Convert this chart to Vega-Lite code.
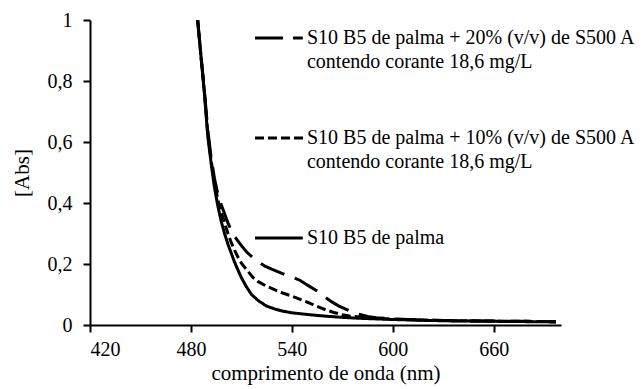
{
  "$schema": "https://vega.github.io/schema/vega-lite/v6.json",
  "width": 471,
  "height": 305,
  "autosize": "none",
  "padding": {"left": 90, "top": 20, "right": 82, "bottom": 64},
  "background": "white",
  "config": {
    "view": {"stroke": null},
    "axis": {
      "domainColor": "black", "domainWidth": 2, "tickColor": "black", "tickWidth": 2, "tickSize": 7,
      "grid": false, "labelFont": "Liberation Serif, Times New Roman, serif", "labelFontSize": 20, "labelColor": "black",
      "titleFont": "Liberation Serif, Times New Roman, serif", "titleFontSize": 21, "titleFontWeight": "normal", "titleColor": "black"
    }
  },
  "datasets": {
    "curves": [
      {"serie": "S10 B5 de palma", "wl": 484, "abs": 1.0},
      {"serie": "S10 B5 de palma", "wl": 486, "abs": 0.88},
      {"serie": "S10 B5 de palma", "wl": 488, "abs": 0.76},
      {"serie": "S10 B5 de palma", "wl": 490, "abs": 0.62},
      {"serie": "S10 B5 de palma", "wl": 492, "abs": 0.53},
      {"serie": "S10 B5 de palma", "wl": 494, "abs": 0.45},
      {"serie": "S10 B5 de palma", "wl": 496, "abs": 0.39},
      {"serie": "S10 B5 de palma", "wl": 498, "abs": 0.34},
      {"serie": "S10 B5 de palma", "wl": 500, "abs": 0.3},
      {"serie": "S10 B5 de palma", "wl": 502, "abs": 0.265},
      {"serie": "S10 B5 de palma", "wl": 504, "abs": 0.235},
      {"serie": "S10 B5 de palma", "wl": 506, "abs": 0.205},
      {"serie": "S10 B5 de palma", "wl": 508, "abs": 0.18},
      {"serie": "S10 B5 de palma", "wl": 510, "abs": 0.155},
      {"serie": "S10 B5 de palma", "wl": 513, "abs": 0.125},
      {"serie": "S10 B5 de palma", "wl": 516, "abs": 0.1},
      {"serie": "S10 B5 de palma", "wl": 520, "abs": 0.08},
      {"serie": "S10 B5 de palma", "wl": 525, "abs": 0.062},
      {"serie": "S10 B5 de palma", "wl": 530, "abs": 0.052},
      {"serie": "S10 B5 de palma", "wl": 535, "abs": 0.045},
      {"serie": "S10 B5 de palma", "wl": 540, "abs": 0.04},
      {"serie": "S10 B5 de palma", "wl": 550, "abs": 0.034},
      {"serie": "S10 B5 de palma", "wl": 560, "abs": 0.029},
      {"serie": "S10 B5 de palma", "wl": 570, "abs": 0.025},
      {"serie": "S10 B5 de palma", "wl": 580, "abs": 0.022},
      {"serie": "S10 B5 de palma", "wl": 590, "abs": 0.02},
      {"serie": "S10 B5 de palma", "wl": 600, "abs": 0.018},
      {"serie": "S10 B5 de palma", "wl": 620, "abs": 0.015},
      {"serie": "S10 B5 de palma", "wl": 640, "abs": 0.013},
      {"serie": "S10 B5 de palma", "wl": 660, "abs": 0.012},
      {"serie": "S10 B5 de palma", "wl": 680, "abs": 0.011},
      {"serie": "S10 B5 de palma", "wl": 697, "abs": 0.01},
      {"serie": "10%", "wl": 484, "abs": 1.0},
      {"serie": "10%", "wl": 486, "abs": 0.88},
      {"serie": "10%", "wl": 488, "abs": 0.765},
      {"serie": "10%", "wl": 490, "abs": 0.63},
      {"serie": "10%", "wl": 492, "abs": 0.54},
      {"serie": "10%", "wl": 494, "abs": 0.47},
      {"serie": "10%", "wl": 496, "abs": 0.41},
      {"serie": "10%", "wl": 498, "abs": 0.37},
      {"serie": "10%", "wl": 500, "abs": 0.335},
      {"serie": "10%", "wl": 502, "abs": 0.3},
      {"serie": "10%", "wl": 504, "abs": 0.27},
      {"serie": "10%", "wl": 506, "abs": 0.245},
      {"serie": "10%", "wl": 508, "abs": 0.222},
      {"serie": "10%", "wl": 510, "abs": 0.203},
      {"serie": "10%", "wl": 513, "abs": 0.182},
      {"serie": "10%", "wl": 517, "abs": 0.155},
      {"serie": "10%", "wl": 520, "abs": 0.142},
      {"serie": "10%", "wl": 525, "abs": 0.127},
      {"serie": "10%", "wl": 530, "abs": 0.115},
      {"serie": "10%", "wl": 535, "abs": 0.104},
      {"serie": "10%", "wl": 540, "abs": 0.095},
      {"serie": "10%", "wl": 545, "abs": 0.084},
      {"serie": "10%", "wl": 550, "abs": 0.073},
      {"serie": "10%", "wl": 555, "abs": 0.061},
      {"serie": "10%", "wl": 560, "abs": 0.05},
      {"serie": "10%", "wl": 565, "abs": 0.041},
      {"serie": "10%", "wl": 570, "abs": 0.034},
      {"serie": "10%", "wl": 575, "abs": 0.029},
      {"serie": "10%", "wl": 580, "abs": 0.026},
      {"serie": "10%", "wl": 590, "abs": 0.022},
      {"serie": "10%", "wl": 600, "abs": 0.019},
      {"serie": "10%", "wl": 620, "abs": 0.016},
      {"serie": "10%", "wl": 640, "abs": 0.014},
      {"serie": "10%", "wl": 660, "abs": 0.013},
      {"serie": "10%", "wl": 680, "abs": 0.012},
      {"serie": "10%", "wl": 697, "abs": 0.011},
      {"serie": "20%", "wl": 484, "abs": 1.0},
      {"serie": "20%", "wl": 486, "abs": 0.88},
      {"serie": "20%", "wl": 488, "abs": 0.77},
      {"serie": "20%", "wl": 490, "abs": 0.64},
      {"serie": "20%", "wl": 492, "abs": 0.55},
      {"serie": "20%", "wl": 494, "abs": 0.48},
      {"serie": "20%", "wl": 496, "abs": 0.43},
      {"serie": "20%", "wl": 498, "abs": 0.395},
      {"serie": "20%", "wl": 500, "abs": 0.365},
      {"serie": "20%", "wl": 502, "abs": 0.335},
      {"serie": "20%", "wl": 504, "abs": 0.31},
      {"serie": "20%", "wl": 506, "abs": 0.29},
      {"serie": "20%", "wl": 508, "abs": 0.275},
      {"serie": "20%", "wl": 510, "abs": 0.26},
      {"serie": "20%", "wl": 513, "abs": 0.24},
      {"serie": "20%", "wl": 517, "abs": 0.22},
      {"serie": "20%", "wl": 520, "abs": 0.208},
      {"serie": "20%", "wl": 524, "abs": 0.193},
      {"serie": "20%", "wl": 528, "abs": 0.183},
      {"serie": "20%", "wl": 533, "abs": 0.172},
      {"serie": "20%", "wl": 537, "abs": 0.162},
      {"serie": "20%", "wl": 541, "abs": 0.155},
      {"serie": "20%", "wl": 545, "abs": 0.146},
      {"serie": "20%", "wl": 548, "abs": 0.135},
      {"serie": "20%", "wl": 551, "abs": 0.125},
      {"serie": "20%", "wl": 554, "abs": 0.115},
      {"serie": "20%", "wl": 557, "abs": 0.104},
      {"serie": "20%", "wl": 560, "abs": 0.09},
      {"serie": "20%", "wl": 564, "abs": 0.075},
      {"serie": "20%", "wl": 568, "abs": 0.062},
      {"serie": "20%", "wl": 572, "abs": 0.052},
      {"serie": "20%", "wl": 576, "abs": 0.042},
      {"serie": "20%", "wl": 580, "abs": 0.035},
      {"serie": "20%", "wl": 585, "abs": 0.028},
      {"serie": "20%", "wl": 590, "abs": 0.024},
      {"serie": "20%", "wl": 600, "abs": 0.02},
      {"serie": "20%", "wl": 620, "abs": 0.016},
      {"serie": "20%", "wl": 640, "abs": 0.014},
      {"serie": "20%", "wl": 660, "abs": 0.013},
      {"serie": "20%", "wl": 680, "abs": 0.012},
      {"serie": "20%", "wl": 697, "abs": 0.011}
    ],
    "labels": [
      {"t": "S10 B5 de palma + 20% (v/v) de S500 A", "x": 549, "y": 0.941},
      {"t": "contendo corante 18,6 mg/L", "x": 549, "y": 0.862},
      {"t": "S10 B5 de palma + 10% (v/v) de S500 A", "x": 549, "y": 0.613},
      {"t": "contendo corante 18,6 mg/L", "x": 549, "y": 0.534},
      {"t": "S10 B5 de palma", "x": 549, "y": 0.285}
    ]
  },
  "encoding": {
    "x": {"type": "quantitative", "scale": {"domain": [420, 700], "nice": false, "zero": false}},
    "y": {"type": "quantitative", "scale": {"domain": [0, 1], "nice": false}}
  },
  "layer": [
    {
      "data": {"name": "curves"},
      "mark": {"type": "line", "color": "black", "strokeWidth": 3, "clip": true},
      "encoding": {
        "x": {"field": "wl", "type": "quantitative",
              "axis": {"values": [420, 480, 540, 600, 660], "format": "d", "title": "comprimento de onda (nm)", "labelPadding": 7, "titlePadding": 3}},
        "y": {"field": "abs", "type": "quantitative",
              "axis": {"values": [0, 0.2, 0.4, 0.6, 0.8, 1], "labelExpr": "replace(format(datum.value, '~g'), '.', ',')", "title": "[Abs]", "labelPadding": 11, "titlePadding": 15}},
        "strokeDash": {"field": "serie", "type": "nominal", "legend": null,
                       "scale": {"domain": ["S10 B5 de palma", "10%", "20%"], "range": [[1, 0], [9, 4], [26, 11]]}}
      }
    },
    {
      "data": {"values": [{"x1": 518.1, "x2": 546.5, "y": 0.941}]},
      "mark": {"type": "rule", "color": "black", "strokeWidth": 3, "strokeDash": [28, 10]},
      "encoding": {"x": {"field": "x1", "type": "quantitative"}, "x2": {"field": "x2"}, "y": {"field": "y", "type": "quantitative"}}
    },
    {
      "data": {"values": [{"x1": 518.1, "x2": 547.5, "y": 0.613}]},
      "mark": {"type": "rule", "color": "black", "strokeWidth": 3, "strokeDash": [9, 4]},
      "encoding": {"x": {"field": "x1", "type": "quantitative"}, "x2": {"field": "x2"}, "y": {"field": "y", "type": "quantitative"}}
    },
    {
      "data": {"values": [{"x1": 518.1, "x2": 546.5, "y": 0.285}]},
      "mark": {"type": "rule", "color": "black", "strokeWidth": 3},
      "encoding": {"x": {"field": "x1", "type": "quantitative"}, "x2": {"field": "x2"}, "y": {"field": "y", "type": "quantitative"}}
    },
    {
      "data": {"name": "labels"},
      "mark": {"type": "text", "align": "left", "baseline": "middle", "font": "Liberation Serif, Times New Roman, serif", "fontSize": 20, "color": "black"},
      "encoding": {"x": {"field": "x", "type": "quantitative"}, "y": {"field": "y", "type": "quantitative"}, "text": {"field": "t"}}
    }
  ]
}
